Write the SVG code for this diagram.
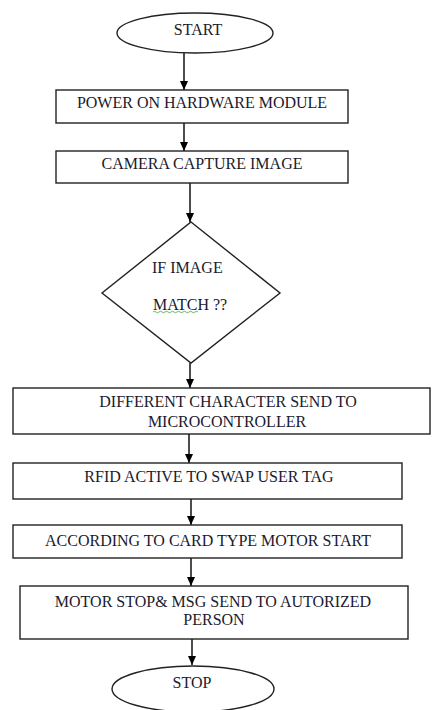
<svg xmlns="http://www.w3.org/2000/svg" width="432" height="710" viewBox="0 0 432 710">
<defs>
<marker id="arr" markerWidth="9" markerHeight="8" refX="9" refY="4" orient="auto" markerUnits="userSpaceOnUse" viewBox="0 0 9 8">
<path d="M0,0 L9,4 L0,8 Z" fill="#000"/>
</marker>
</defs>
<style>
.s{fill:#fff;stroke:#222;stroke-width:1.4}
.t{font-family:"Liberation Serif","Times New Roman",serif;font-size:16px;fill:#1a1a2e;text-anchor:middle}
.c{stroke:#000;stroke-width:1.4;fill:none}
</style>
<rect width="432" height="710" fill="#fff"/>
<g id="connectors">
<line class="c" x1="184" y1="53" x2="184" y2="90" marker-end="url(#arr)"/>
<line class="c" x1="184" y1="123" x2="184" y2="151" marker-end="url(#arr)"/>
<line class="c" x1="190" y1="183" x2="190" y2="222" marker-end="url(#arr)"/>
<line class="c" x1="190" y1="363" x2="190" y2="388" marker-end="url(#arr)"/>
<line class="c" x1="189" y1="434" x2="189" y2="463" marker-end="url(#arr)"/>
<line class="c" x1="191" y1="499" x2="191" y2="525" marker-end="url(#arr)"/>
<line class="c" x1="191" y1="558" x2="191" y2="586" marker-end="url(#arr)"/>
<line class="c" x1="192" y1="639" x2="192" y2="665" marker-end="url(#arr)"/>
</g>
<g id="start">
<ellipse class="s" cx="195" cy="33" rx="78" ry="20"/>
<text class="t" x="198" y="35">START</text>
</g>
<g id="power">
<rect class="s" x="56" y="90" width="292" height="33"/>
<text class="t" x="202" y="108">POWER ON HARDWARE MODULE</text>
</g>
<g id="camera">
<rect class="s" x="56" y="151" width="292" height="32"/>
<text class="t" x="202" y="169">CAMERA CAPTURE IMAGE</text>
</g>
<g id="decision">
<polygon class="s" points="191,222 280,293 191,363 102,293"/>
<text class="t" x="152" y="273" style="text-anchor:start">IF IMAGE</text>
<text class="t" x="153" y="310" style="text-anchor:start">MATCH ??</text>
<path d="M153,312 q1.5,-1.5 3,0 t3,0 t3,0 t3,0 t3,0 t3,0 t3,0 t3,0 t3,0 t3,0 t3,0 t3,0 t3,0 t3,0 t3,0" fill="none" stroke="#4a9a4a" stroke-width="0.8"/>
</g>
<g id="different">
<rect class="s" x="13" y="388" width="417" height="46"/>
<text class="t" x="228" y="407">DIFFERENT CHARACTER SEND TO</text>
<text class="t" x="227" y="427">MICROCONTROLLER</text>
</g>
<g id="rfid">
<rect class="s" x="13" y="463" width="389" height="36"/>
<text class="t" x="209" y="482">RFID ACTIVE TO SWAP USER TAG</text>
</g>
<g id="according">
<rect class="s" x="13" y="525" width="389" height="33"/>
<text class="t" x="208" y="546">ACCORDING TO CARD TYPE MOTOR START</text>
</g>
<g id="motorstop">
<rect class="s" x="20" y="586" width="388" height="53"/>
<text class="t" x="213" y="607">MOTOR STOP&amp; MSG SEND TO AUTORIZED</text>
<text class="t" x="214" y="625">PERSON</text>
</g>
<g id="stop">
<ellipse class="s" cx="193" cy="689" rx="81" ry="23"/>
<text class="t" x="192" y="688">STOP</text>
</g>
</svg>
